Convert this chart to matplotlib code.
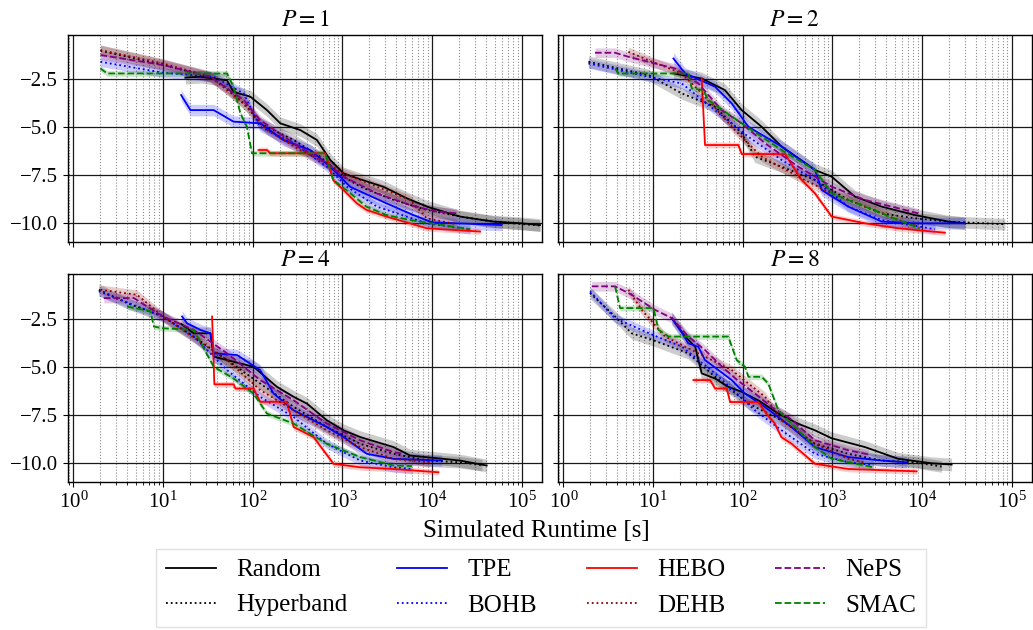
import matplotlib
matplotlib.use("Agg")
import matplotlib.pyplot as plt
import numpy as np

plt.rcParams['font.family'] = ['Liberation Serif', 'DejaVu Serif']
plt.rcParams['mathtext.fontset'] = 'stix'

methods = ["Random", "Hyperband", "TPE", "BOHB", "HEBO", "DEHB", "NePS", "SMAC"]
colors = ["black", "black", "blue", "blue", "red", "darkred", "purple", "green"]
styles = ["-", ":", "-", ":", "-", ":", "--", "--"]
band_halfwidth = [0.33, 0.3, 0.3, 0.25, 0.15, 0.25, 0.25, 0.15]
panel_titles = ["$P=1$", "$P=2$", "$P=4$", "$P=8$"]
yticks = [-2.5, -5.0, -7.5, -10.0]
xlabel = "Simulated Runtime [s]"

# ---------------- P = 1 ----------------
p1_random_t = [17.7, 26, 51.6, 61, 94, 144, 203, 339, 520, 733, 1030, 1570, 2877, 5250, 9000, 20530, 48270, 1e5, 1.6e5]
p1_random_y = [-2.41, -2.36, -2.55, -3.15, -3.4, -4.1, -4.79, -5.14, -5.66, -6.7, -7.4, -7.7, -8.1, -8.7, -9.15, -9.65, -9.91, -10.0, -10.09]
p1_hyperband_t = [2.0, 10, 33.7, 51.6, 86.3, 121, 286, 566, 1030, 1578, 3715, 8730, 20530, 48270, 1.6e5]
p1_hyperband_y = [-1.0, -1.75, -2.36, -2.97, -3.92, -4.79, -5.66, -6.53, -7.57, -8.09, -8.78, -9.3, -9.65, -9.91, -10.12]
p1_tpe_t = [15.9, 20.2, 36.7, 61, 122, 219, 437, 733, 1222, 3100, 6200, 10000, 59750]
p1_tpe_y = [-3.32, -4.1, -4.1, -4.7, -4.79, -5.66, -6.18, -7.05, -8.1, -8.96, -9.57, -9.95, -10.09]
p1_bohb_t = [2.0, 10, 36.7, 79.2, 121, 286, 671, 1122, 2423, 8730, 26540]
p1_bohb_y = [-1.58, -2.15, -2.36, -3.23, -4.97, -5.83, -7.05, -8.09, -9.13, -10.0, -10.31]
p1_hebo_t = [116, 144, 157, 645, 790, 1030, 1450, 1850, 3100, 8730, 34280]
p1_hebo_y = [-6.18, -6.18, -6.35, -6.35, -7.75, -8.27, -8.96, -9.3, -9.65, -10.26, -10.43]
p1_dehb_t = [2.0, 10, 33.7, 79.2, 144, 339, 671, 1030, 2423, 5690, 8730, 18850]
p1_dehb_y = [-0.97, -1.67, -2.36, -3.75, -5.14, -6.18, -6.88, -7.4, -8.09, -8.78, -9.74, -10.05]
p1_neps_t = [2.0, 10, 33.7, 79.2, 121, 286, 671, 1030, 2423, 5690, 11270, 18850]
p1_neps_y = [-1.23, -1.75, -2.36, -3.58, -4.62, -5.83, -6.88, -7.57, -8.44, -9.05, -9.39, -9.48]
p1_smac_t = [2.0, 2.38, 51.7, 61, 72.8, 86, 98, 645, 790, 1110, 1850, 3100, 5690, 26540]
p1_smac_y = [-1.93, -2.19, -2.19, -2.88, -4.27, -4.97, -6.35, -6.35, -7.75, -8.27, -9.13, -9.57, -9.83, -10.31]

# ---------------- P = 2 ----------------
p2_random_t = [16.9, 34.9, 63.5, 97.5, 163, 272, 641, 984, 1790, 3548, 8358, 19680, 30200]
p2_random_y = [-2.19, -2.45, -3.06, -4.1, -4.97, -6.0, -7.22, -7.57, -8.61, -9.13, -9.57, -9.91, -10.0]
p2_hyperband_t = [1.9, 8.88, 20.9, 49.1, 97.5, 137, 272, 641, 1508, 3548, 8358, 19680, 84300]
p2_hyperband_y = [-1.58, -2.27, -3.23, -3.92, -5.31, -6.53, -7.05, -7.74, -8.78, -9.48, -9.74, -9.91, -10.05]
p2_tpe_t = [16.9, 22.8, 49.1, 75.4, 116, 272, 641, 761, 1508, 3548, 8358, 30200]
p2_tpe_y = [-1.41, -2.19, -2.88, -3.75, -4.97, -6.0, -7.22, -8.26, -9.13, -9.91, -10.0, -10.0]
p2_bohb_t = [1.9, 8.88, 20.9, 49.1, 116, 272, 641, 1508, 3548, 13970]
p2_bohb_y = [-1.67, -2.36, -2.71, -4.1, -5.49, -6.7, -7.74, -9.13, -9.83, -10.31]
p2_hebo_t = [34.9, 38, 89.5, 97.5, 297, 455, 641, 984, 2314, 5445, 18060]
p2_hebo_y = [-2.45, -5.92, -5.92, -6.39, -6.39, -7.74, -8.44, -9.65, -10.0, -10.26, -10.49]
p2_dehb_t = [5.3, 8.88, 20.9, 38, 82, 163, 418, 984, 2314, 5445, 9110]
p2_dehb_y = [-1.06, -1.5, -2.19, -3.4, -5.14, -6.53, -7.57, -8.44, -9.13, -9.83, -10.17]
p2_neps_t = [2.25, 3.77, 5.3, 10.5, 17.6, 32, 58.3, 97.5, 178, 418, 984, 2314, 9100]
p2_neps_y = [-1.11, -1.11, -1.32, -1.67, -1.93, -2.71, -4.1, -4.79, -5.83, -7.05, -8.09, -8.78, -9.48]
p2_smac_t = [3.77, 4.1, 24.8, 27, 36.4, 41.4, 97.5, 272, 641, 984, 2314, 5445, 9500]
p2_smac_y = [-1.93, -2.19, -2.19, -2.97, -3.06, -3.58, -4.79, -6.18, -7.22, -8.44, -9.13, -9.83, -10.26]

# ---------------- P = 4 ----------------
p4_random_t = [15.9, 22, 33.7, 36.7, 51.6, 102, 186, 286, 402, 671, 1030, 1578, 3715, 5690, 20530, 40650]
p4_random_y = [-2.76, -3.25, -3.25, -4.46, -4.64, -4.99, -6.03, -6.55, -6.9, -7.77, -8.29, -8.64, -9.16, -9.6, -9.86, -10.12]
p4_hyperband_t = [1.92, 3.97, 10, 22, 51.6, 121, 286, 671, 1578, 3715, 8730, 20530, 36000]
p4_hyperband_y = [-0.99, -1.68, -2.38, -3.42, -4.64, -5.86, -7.07, -8.12, -8.99, -9.51, -9.86, -9.95, -10.1]
p4_tpe_t = [16.3, 18.5, 26, 33.7, 36.7, 66.7, 121, 171, 286, 671, 1030, 1874, 3715, 12830]
p4_tpe_y = [-2.38, -2.73, -3.07, -3.25, -4.29, -4.38, -5.16, -6.38, -7.25, -8.12, -8.64, -9.51, -9.77, -9.86]
p4_bohb_t = [1.92, 10, 22, 51.6, 121, 286, 671, 1578, 3715, 5940]
p4_bohb_y = [-1.07, -2.38, -3.42, -5.16, -6.55, -7.6, -8.99, -9.86, -10.21, -10.3]
p4_hebo_t = [35.2, 37.3, 61.3, 64, 102, 121, 240, 286, 477, 796, 1578, 3715, 11770]
p4_hebo_y = [-2.38, -5.9, -5.9, -6.12, -6.12, -6.81, -6.81, -8.12, -8.64, -10.03, -10.21, -10.3, -10.47]
p4_dehb_t = [2.0, 5.13, 10, 51.6, 121, 286, 671, 1578, 3715, 9510]
p4_dehb_y = [-0.99, -1.25, -2.38, -4.64, -6.2, -7.25, -8.29, -9.16, -9.77, -9.95]
p4_neps_t = [2.18, 4.71, 10, 22, 51.6, 121, 286, 671, 1578, 3715, 4597]
p4_neps_y = [-1.42, -1.42, -2.38, -3.07, -4.29, -5.68, -6.73, -7.94, -8.81, -9.42, -9.5]
p4_smac_t = [3.97, 7.2, 7.9, 10, 22, 36.7, 61.3, 102, 144, 286, 671, 1578, 3715, 5940]
p4_smac_y = [-1.86, -2.1, -2.9, -2.99, -3.07, -4.99, -5.6, -6.38, -7.42, -7.94, -8.99, -9.68, -10.12, -10.15]

# ---------------- P = 8 ----------------
p8_random_t = [16.2, 22.8, 29.5, 34.9, 49.2, 69, 97.5, 149, 250, 417, 641, 980, 2314, 5445, 12830, 21440]
p8_random_y = [-2.46, -3.42, -3.95, -5.33, -5.6, -6.03, -6.29, -6.73, -7.42, -7.95, -8.29, -8.7, -9.16, -9.77, -10.0, -10.07]
p8_hyperband_t = [1.98, 3.77, 5.78, 9.9, 24.8, 49.1, 116, 272, 641, 1508, 3548, 8358, 16560]
p8_hyperband_y = [-1.16, -2.38, -3.25, -3.6, -4.29, -5.51, -6.9, -7.77, -8.99, -9.51, -9.86, -9.95, -10.17]
p8_tpe_t = [16.2, 20.9, 24.7, 32, 38, 53.6, 75.4, 106, 177, 250, 350, 641, 1508, 3548, 6745]
p8_tpe_y = [-2.47, -3.2, -3.77, -3.95, -4.64, -5.16, -5.68, -6.38, -7.08, -7.6, -8.12, -9.16, -9.68, -9.86, -9.95]
p8_bohb_t = [1.98, 3.77, 9.9, 20.9, 49.1, 137, 272, 641, 1508, 2864]
p8_bohb_y = [-1.07, -2.47, -3.33, -3.94, -5.33, -7.25, -8.29, -9.51, -9.95, -10.1]
p8_hebo_t = [28.2, 43.3, 49.3, 66.4, 72.4, 149, 184, 229, 270, 352, 641, 1508, 8730]
p8_hebo_y = [-5.68, -5.68, -6.12, -6.12, -6.82, -6.82, -7.42, -7.95, -8.64, -8.99, -10.03, -10.3, -10.42]
p8_dehb_t = [5.3, 7.48, 13.6, 32, 75.4, 178, 272, 641, 1508, 2218]
p8_dehb_y = [-0.99, -2.03, -3.42, -4.29, -5.16, -6.55, -7.77, -8.99, -9.77, -9.95]
p8_neps_t = [2.07, 3.77, 5.78, 10.5, 16.2, 24.7, 38, 59, 87, 137, 210, 323, 641, 1508, 2518]
p8_neps_y = [-0.81, -0.81, -1.25, -2.03, -2.46, -3.42, -4.12, -4.99, -5.68, -6.38, -7.08, -7.6, -8.81, -9.33, -9.54]
p8_smac_t = [3.77, 4.28, 10.1, 11.5, 14.9, 69, 85.7, 106, 116, 163, 193, 250, 297, 641, 984, 2864]
p8_smac_y = [-0.81, -1.94, -1.94, -3.07, -3.42, -3.42, -4.64, -4.99, -5.51, -5.51, -5.86, -7.25, -7.6, -9.16, -9.77, -10.21]

panels = [
    [(p1_random_t, p1_random_y), (p1_hyperband_t, p1_hyperband_y), (p1_tpe_t, p1_tpe_y), (p1_bohb_t, p1_bohb_y),
     (p1_hebo_t, p1_hebo_y), (p1_dehb_t, p1_dehb_y), (p1_neps_t, p1_neps_y), (p1_smac_t, p1_smac_y)],
    [(p2_random_t, p2_random_y), (p2_hyperband_t, p2_hyperband_y), (p2_tpe_t, p2_tpe_y), (p2_bohb_t, p2_bohb_y),
     (p2_hebo_t, p2_hebo_y), (p2_dehb_t, p2_dehb_y), (p2_neps_t, p2_neps_y), (p2_smac_t, p2_smac_y)],
    [(p4_random_t, p4_random_y), (p4_hyperband_t, p4_hyperband_y), (p4_tpe_t, p4_tpe_y), (p4_bohb_t, p4_bohb_y),
     (p4_hebo_t, p4_hebo_y), (p4_dehb_t, p4_dehb_y), (p4_neps_t, p4_neps_y), (p4_smac_t, p4_smac_y)],
    [(p8_random_t, p8_random_y), (p8_hyperband_t, p8_hyperband_y), (p8_tpe_t, p8_tpe_y), (p8_bohb_t, p8_bohb_y),
     (p8_hebo_t, p8_hebo_y), (p8_dehb_t, p8_dehb_y), (p8_neps_t, p8_neps_y), (p8_smac_t, p8_smac_y)],
]

W, H = 1033, 630
fig = plt.figure(figsize=(W / 100, H / 100), dpi=100)

# axes rectangles in pixels (left, top, right, bottom)
rects_px = [(68, 34.7, 541.7, 242.3), (558, 34.7, 1031.5, 242.3),
            (68, 274, 541.7, 482.3), (558, 274, 1031.5, 482.3)]

axes = []
for i, (l, t, r, b) in enumerate(rects_px):
    kw = {}
    if axes:
        kw = dict(sharex=axes[0], sharey=axes[0])
    ax = fig.add_axes([l / W, 1 - b / H, (r - l) / W, (b - t) / H], **kw)
    axes.append(ax)

minus_fmt = matplotlib.ticker.FuncFormatter(lambda v, pos: f"{v:.1f}".replace("-", "\u2212"))

for i, ax in enumerate(axes):
    ax.set_xscale('log')
    ax.set_axisbelow(True)
    ax.grid(True, which='major', color='0.1', lw=0.9)
    ax.grid(True, which='minor', axis='x', color='0.55', ls=':', lw=0.8)
    for m, (t, y) in enumerate(panels[i]):
        t = np.asarray(t, float)
        y = np.asarray(y, float)
        ax.fill_between(t, y - band_halfwidth[m], y + band_halfwidth[m],
                        color=colors[m], alpha=0.2, lw=0)
        ax.plot(t, y, color=colors[m], ls=styles[m], lw=1.3, label=methods[m])
    ax.set_title(panel_titles[i], fontsize=17, pad=6)
    ax.set_yticks(yticks)
    ax.yaxis.set_major_formatter(minus_fmt)
    ax.tick_params(axis='both', labelsize=15, direction='out')
    for s in ax.spines.values():
        s.set_color('black')
        s.set_linewidth(1.0)
    if i in (0, 1):
        ax.tick_params(axis='x', labelbottom=False)
    if i in (1, 3):
        ax.tick_params(axis='y', labelleft=False)

axes[0].set_xlim(0.87, 1.67e5)
axes[0].set_ylim(-10.99, -0.17)
axes[0].xaxis.set_major_locator(matplotlib.ticker.LogLocator(base=10, numticks=10))

fig.text(536.5 / W, 1 - 531 / H, xlabel, ha='center', va='center', fontsize=18)

handles, labels = axes[0].get_legend_handles_labels()
leg = fig.legend(handles, labels, ncol=4, loc='upper center',
                 bbox_to_anchor=(541 / W, 1 - 549 / H), fontsize=18,
                 frameon=True, fancybox=False, edgecolor='0.85',
                 borderaxespad=0)

fig.savefig("out.png", dpi=100)
